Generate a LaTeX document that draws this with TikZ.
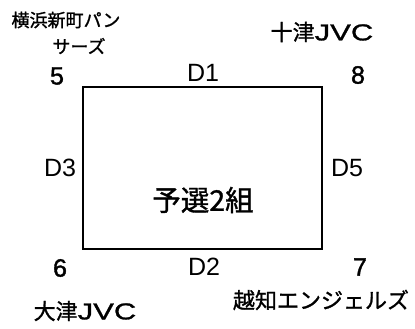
\documentclass[tikz,border=0pt]{standalone}
\usepackage{fontspec}
\setmainfont{Liberation Sans}
\newfontfamily\bnum[FakeBold=1.5]{Liberation Sans}
\newfontfamily\jp[FakeBold=1.2]{Noto Sans CJK JP}
\newfontfamily\wide[FakeBold=1.2,FakeStretch=1.35]{Liberation Sans}

\begin{document}
\begin{tikzpicture}[x=1pt, y=-1pt,
    team/.style = {font=\jp\fontsize{22}{24}\selectfont, inner sep=0pt},
    num/.style  = {font=\bnum\fontsize{25}{27}\selectfont, inner sep=0pt},
    game/.style = {font=\fontsize{25}{27}\selectfont, inner sep=0pt}
                    ]
        \useasboundingbox (0,0) rectangle (415,329);
        % the group box
        \coordinate (nw) at (83,87);
        \coordinate (se) at (322,249);
        \draw [black,line width=1.6pt] (nw) rectangle (se);
        \node[font=\jp\fontsize{28.5}{30}\selectfont, inner sep=0pt] (grp) at (203,200) {予選2組};
        % corner numbers
        \foreach \x/\y/\v in {57/76/5, 358/75/8, 60/268/6, 360/267/7}
            \node[num] (n\v) at (\x,\y) {\v};
        % games
        \foreach \x/\y/\g in {203/73/1, 204/267/2, 60/168/3, 347/168/5}
            \node[game] (d\g) at (\x,\y) {D\g};
        % teams
        \node[team, font=\jp\fontsize{18}{20}\selectfont] (yoko) at (66,20) {横浜新町パン};
        \node[team, font=\jp\fontsize{18}{20}\selectfont] (yoko2) at (79,46) {サーズ};
        \node[team] (toshin) at (322,32) {十津{\wide\fontsize{23}{25}\selectfont JVC}};
        \node[team] (otsu) at (85,311) {大津{\wide\fontsize{23}{25}\selectfont JVC}};
        \node[team] (ochi) at (321,300) {越知エンジェルズ};
    \end{tikzpicture}
\end{document}
